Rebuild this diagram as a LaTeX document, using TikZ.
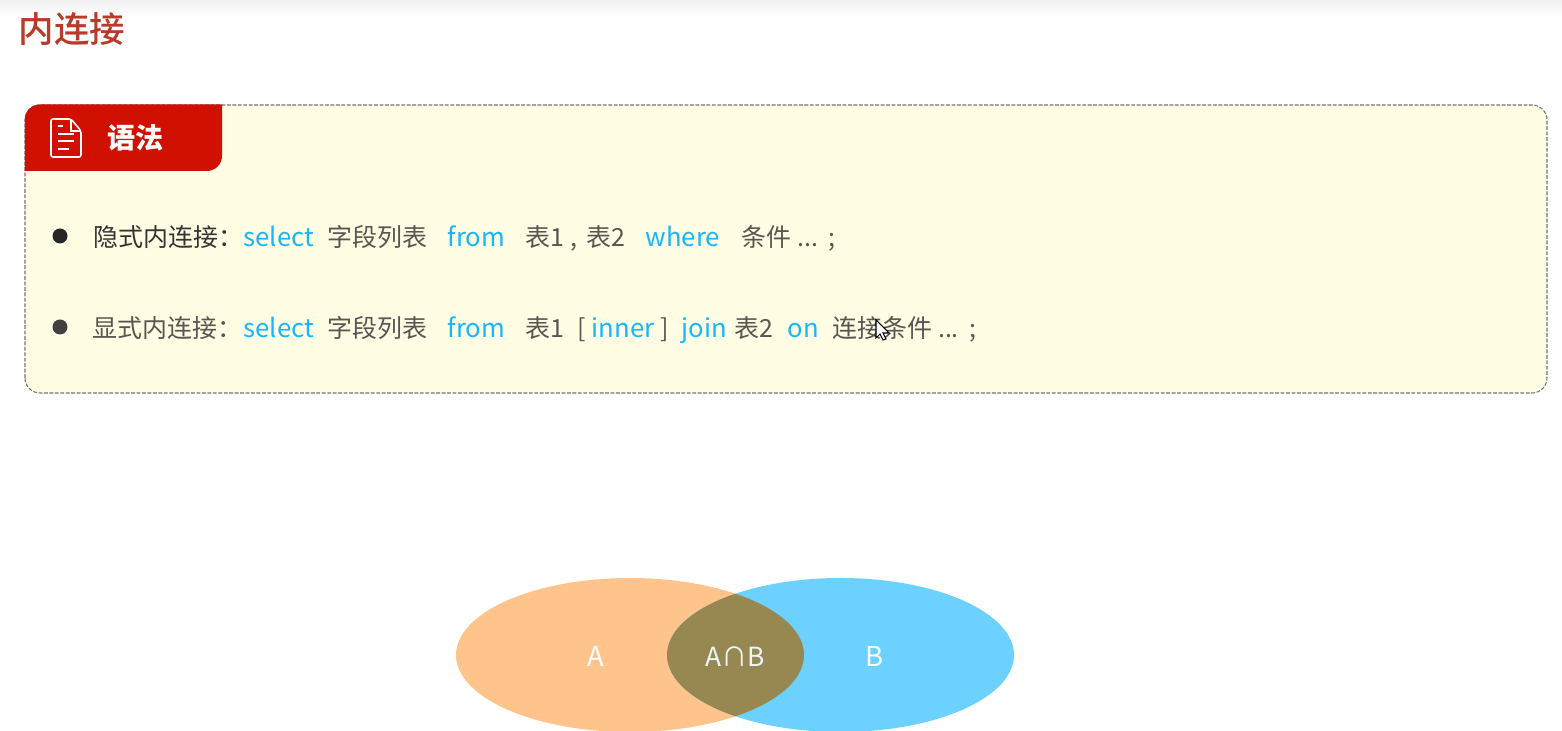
\documentclass[tikz,border=0pt]{standalone}
\usepackage{fontspec}
\setmainfont{Noto Sans CJK SC}
\newfontfamily\titlefont{Noto Sans CJK SC Medium}
\usetikzlibrary{positioning}

\definecolor{titlered}{HTML}{B83A2A}
\definecolor{tabred}{HTML}{D01000}
\definecolor{boxyellow}{HTML}{FFFDE3}
\definecolor{keyblue}{HTML}{17B6FF}
\definecolor{plaingrey}{HTML}{595552}
\definecolor{setorange}{HTML}{FFC48C}
\definecolor{setblue}{HTML}{6CD1FF}
\definecolor{setboth}{HTML}{978751}

\tikzset{
  txt/.style={anchor=base west, inner sep=0pt, font=\fontsize{7.1}{9}\selectfont, text=plaingrey},
  key/.style={txt, font=\fontsize{7.3}{9}\selectfont, text=keyblue},
  lead/.style={txt, text=black!80},
  setlabel/.style={anchor=base, inner sep=0pt, font=\fontsize{7.8}{9}\selectfont, text=white}
}

\begin{document}
\begin{tikzpicture}

\useasboundingbox (0,0) rectangle (15.62,7.31);

% Top edge
      \shade[top color=black!6, bottom color=white] (0,7.31) rectangle (15.62,7.15);

% Title
      \node[anchor=base west, inner sep=0pt, text=titlered, font=\fontsize{10.1}{12}\titlefont] (title) at (0.18,6.88) {内连接};

% Yellow box
      \draw[dash pattern=on 1.1pt off 0.45pt, black!55, fill=boxyellow, line width=0.3pt, rounded corners=0.15cm]
      (0.25,3.38) rectangle (15.47,6.26);

% Red tab
      \fill[tabred] (0.248,5.60) -- (0.248,6.115) arc (180:90:0.15) -- (2.22,6.265) -- (2.22,5.75) arc (0:-90:0.15) -- cycle;
      \node[anchor=base west, inner sep=0pt, text=white, font=\fontsize{8}{9}\selectfont\bfseries] (tabtext) at (1.07,5.82) {语法};

% Document icon
      \draw[white, line width=0.45pt, rounded corners=0.02cm]
      (0.51,5.74) -- (0.51,6.12) -- (0.71,6.12) -- (0.81,6.00) -- (0.81,5.74) -- cycle;
      \draw[white, line width=0.35pt] (0.71,6.12) -- (0.71,6.00) -- (0.81,6.00);
      \draw[white, line width=0.35pt] (0.58,6.05) -- (0.63,6.05);
      \foreach \y/\w in {5.97/0.74, 5.90/0.74, 5.82/0.69}
        \draw[white, line width=0.35pt] (0.58,\y) -- (\w,\y);

% Bullets
      \fill[black!85] (0.60,4.95) circle (0.075);
      \fill[black!75] (0.60,4.04) circle (0.075);

% Line one
      \node[lead] (leadone) at (0.93,4.84) {隐式内连接：};
      \node[key] (selectone) at (2.43,4.84) {select};
      \node[txt] (fieldsone) at (3.27,4.84) {字段列表};
      \node[key] (fromone) at (4.47,4.84) {from};
      \node[txt] (tablesone) at (5.25,4.84) {表1 ,};
      \node[txt] (tablesoneb) at (5.86,4.84) {表2};
      \node[key] (whereone) at (6.45,4.84) {where};
      \node[txt] (condone) at (7.41,4.84) {条件 ...\hspace{0.03cm} ;};

% Line two
      \node[lead, text=plaingrey] (leadtwo) at (0.92,3.93) {显式内连接：};
      \node[key] (selecttwo) at (2.43,3.93) {select};
      \node[txt] (fieldstwo) at (3.27,3.93) {字段列表};
      \node[key] (fromtwo) at (4.47,3.93) {from};
      \node[txt] (tabletwo) at (5.25,3.93) {表1};
      \node[txt] (openbr) at (5.77,3.93) {[};
      \node[key] (innertwo) at (5.91,3.93) {inner};
      \node[txt] (closebr) at (6.60,3.93) {]};
      \node[key] (jointwo) at (6.81,3.93) {join};
      \node[txt] (tablebtwo) at (7.34,3.93) {表2};
      \node[key] (ontwo) at (7.87,3.93) {on};
      \node[txt] (condtwo) at (8.32,3.93) {连接条件 ...\hspace{0.03cm} ;};

% Mouse pointer
      \draw[black, fill=white, line width=0.3pt] (8.76,4.11) -- (8.76,3.93) -- (8.80,3.97)
      -- (8.83,3.91) -- (8.86,3.92) -- (8.83,3.98) -- (8.89,3.98) -- cycle;

% Sets
      \fill[setorange] (6.30,0.76) ellipse (1.74 and 0.77);
      \fill[setblue] (8.405,0.76) ellipse (1.735 and 0.77);
      \begin{scope}
        \clip (6.30,0.76) ellipse (1.74 and 0.77);
        \fill[setboth] (8.405,0.76) ellipse (1.735 and 0.77);
      \end{scope}

      \node[setlabel] (seta) at (5.96,0.64) {A};
      \node[setlabel, font=\fontsize{7.5}{9}\selectfont, text=white!85!setblue] (setab) at (7.35,0.64) {A∩B};
      \node[setlabel] (setb) at (8.74,0.64) {B};

\end{tikzpicture}
\end{document}
